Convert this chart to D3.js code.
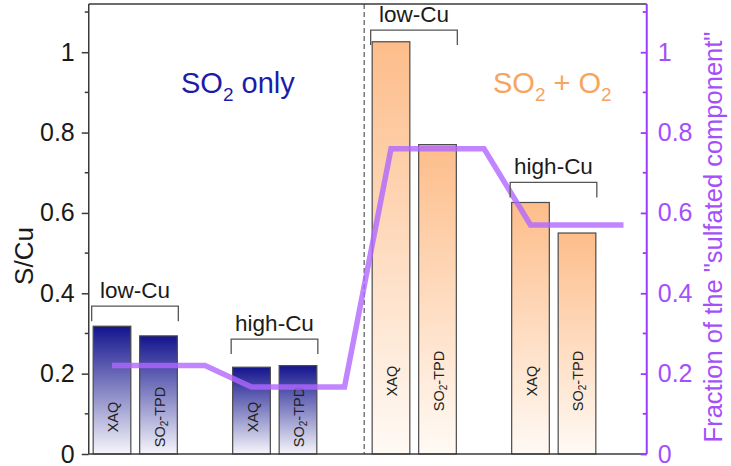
<!DOCTYPE html>
<html><head><meta charset="utf-8">
<script src="https://cdn.jsdelivr.net/npm/d3@7"></script>
<style>
html,body{margin:0;padding:0;background:#fff;}
svg{display:block;font-family:"Liberation Sans",Arial,sans-serif;}
</style></head>
<body>
<svg id="chart" width="731" height="466"></svg>
<script>
// ---- data ----
const barSlots   = [0, 1, 3, 4, 6, 7, 9, 10];
const barMethods = ["XAQ", "SO2-TPD", "XAQ", "SO2-TPD", "XAQ", "SO2-TPD", "XAQ", "SO2-TPD"];
const barAtmos   = ["SO2", "SO2", "SO2", "SO2", "SO2+O2", "SO2+O2", "SO2+O2", "SO2+O2"];
const sCuValues  = [0.318, 0.294, 0.216, 0.220, 1.026, 0.770, 0.626, 0.550];

const fracSlots  = [0, 2, 3, 5, 6, 8, 9, 11];
const fracValues = [0.22, 0.22, 0.167, 0.167, 0.76, 0.76, 0.57, 0.57];

const groupLabels = ["low-Cu", "high-Cu", "low-Cu", "high-Cu"];
const groupBars   = [[0, 1], [2, 3], [4, 5], [6, 7]];
const bracketVals = [0.368, 0.286, 1.055, 0.676];

const yTicks      = [0, 0.2, 0.4, 0.6, 0.8, 1];
const yTickLabels = ["0", "0.2", "0.4", "0.6", "0.8", "1"];
const yMinor      = [0.1, 0.3, 0.5, 0.7, 0.9, 1.1];

// ---- layout ----
const svg = d3.select("#chart");
const L = 88.75, R = 646.75, T = 4, B = 454;
const x = d3.scaleBand().domain(d3.range(12)).range([L, R]).paddingInner(0.19).paddingOuter(0.095);
const bw = x.bandwidth();
const cx = i => x(i) + bw / 2;
const y = d3.scaleLinear().domain([0, 1.12]).range([B, T]);
const yR = d3.scaleLinear().domain([0, 1.12]).range([B, T]);

const axisCol = "#3a3a3a", purple = "#9b3dff", purpleTxt = "#a54ffa";

// gradients
const defs = svg.append("defs");
const gBlue = defs.append("linearGradient").attr("id", "gBlue").attr("x1", 0).attr("y1", 0).attr("x2", 0).attr("y2", 1);
gBlue.append("stop").attr("offset", "0%").attr("stop-color", "#14148e");
gBlue.append("stop").attr("offset", "100%").attr("stop-color", "#f6f6fb");
const gOr = defs.append("linearGradient").attr("id", "gOr").attr("x1", 0).attr("y1", 0).attr("x2", 0).attr("y2", 1);
gOr.append("stop").attr("offset", "0%").attr("stop-color", "#fdbd8a");
gOr.append("stop").attr("offset", "100%").attr("stop-color", "#fffaf5");

// dashed divider
svg.append("line").attr("x1", x(6) - 8).attr("x2", x(6) - 8).attr("y1", T).attr("y2", B)
  .attr("stroke", "#555").attr("stroke-width", 1.2).attr("stroke-dasharray", "5,3");

// bars
const bars = barSlots.map((s, i) => ({slot: s, method: barMethods[i], atmos: barAtmos[i], v: sCuValues[i]}));
svg.append("g").selectAll("rect").data(bars).join("rect")
  .attr("x", d => x(d.slot)).attr("width", bw)
  .attr("y", d => y(d.v)).attr("height", d => y(0) - y(d.v))
  .attr("fill", d => d.atmos === "SO2" ? "url(#gBlue)" : "url(#gOr)")
  .attr("stroke", "#4a4a4a").attr("stroke-width", 1.2);

// bar labels (rotated)
const lab = svg.append("g").selectAll("text").data(bars).join("text")
  .attr("transform", d => `translate(${cx(d.slot) + 1},${d.atmos === "SO2" ? 417 : 381}) rotate(-90)`)
  .attr("text-anchor", "middle").attr("dominant-baseline", "central")
  .attr("font-size", 14.5).attr("fill", "#222");
lab.each(function(d) {
  const t = d3.select(this);
  if (d.method === "XAQ") { t.text("XAQ"); }
  else {
    t.append("tspan").text("SO");
    t.append("tspan").text("2").attr("font-size", 10).attr("dy", 4);
    t.append("tspan").text("-TPD").attr("dy", -4);
  }
});

// fraction line
const fracPts = fracSlots.map((s, i) => [cx(s), yR(fracValues[i])]);
svg.append("path").attr("d", d3.line()(fracPts))
  .attr("fill", "none").attr("stroke", "#b066ff").attr("stroke-opacity", 0.8)
  .attr("stroke-width", 5.5).attr("stroke-linejoin", "miter");

// brackets
groupLabels.forEach((g, i) => {
  const [a, b] = groupBars[i];
  const x0 = x(barSlots[a]) - 1.5, x1 = x(barSlots[b]) + bw + 1;
  const yy = y(bracketVals[i]);
  svg.append("path").attr("d", `M${x0},${yy + 15}V${yy}H${x1}V${yy + 15}`)
    .attr("fill", "none").attr("stroke", "#555").attr("stroke-width", 1.3);
  svg.append("text").attr("x", (x0 + x1) / 2).attr("y", yy - 8)
    .attr("text-anchor", "middle").attr("font-size", 22.5).attr("fill", "#1a1a1a").text(g);
});

// frame top
svg.append("line").attr("x1", L).attr("x2", R).attr("y1", T).attr("y2", T).attr("stroke", axisCol).attr("stroke-width", 1.5);
// bottom axis
svg.append("line").attr("x1", L).attr("x2", R).attr("y1", B).attr("y2", B).attr("stroke", axisCol).attr("stroke-width", 1.5);

// left axis
const gl = svg.append("g").attr("transform", `translate(${L},0)`);
gl.call(d3.axisLeft(y).tickValues(yTicks).tickFormat((d, i) => yTickLabels[i]).tickSize(7).tickPadding(7));
gl.call(g => g.select(".domain").attr("stroke", axisCol).attr("stroke-width", 1.5).attr("d", `M0,${T}V${B}`));
gl.selectAll(".tick line").attr("stroke", axisCol).attr("stroke-width", 1.5);
gl.selectAll(".tick text").attr("font-size", 25).attr("fill", "#1a1a1a").attr("font-family", "Liberation Sans, Arial, sans-serif");
gl.selectAll(".minor").data(yMinor).join("line").attr("class", "minor")
  .attr("x1", -4).attr("x2", 0).attr("y1", d => y(d)).attr("y2", d => y(d)).attr("stroke", axisCol).attr("stroke-width", 1.5);

// right axis
const gr = svg.append("g").attr("transform", `translate(${R},0)`);
gr.call(d3.axisRight(yR).tickValues(yTicks).tickFormat((d, i) => yTickLabels[i]).tickSize(-6).tickPadding(11));
gr.call(g => g.select(".domain").attr("stroke", purple).attr("stroke-width", 2).attr("d", `M0,${T}V${B}`));
gr.selectAll(".tick line").attr("stroke", purple).attr("stroke-width", 1.8);
gr.selectAll(".tick text").attr("font-size", 25).attr("fill", purpleTxt).attr("font-family", "Liberation Sans, Arial, sans-serif");
gr.selectAll(".minor").data(yMinor).join("line").attr("class", "minor")
  .attr("x1", -4).attr("x2", 0).attr("y1", d => yR(d)).attr("y2", d => yR(d)).attr("stroke", purple).attr("stroke-width", 1.8);

// axis titles
svg.append("text").attr("transform", `translate(33,${(T + B) / 2 + 27}) rotate(-90)`)
  .attr("text-anchor", "middle").attr("font-size", 26).attr("fill", "#1a1a1a").text("S/Cu");
svg.append("text").attr("transform", `translate(722,${(T + B) / 2 + 8}) rotate(-90)`)
  .attr("text-anchor", "middle").attr("font-size", 25.5).attr("fill", purpleTxt)
  .text("Fraction of the \"sulfated component\"");

// condition labels
function chem(xp, yp, parts, col) {
  const t = svg.append("text").attr("x", xp).attr("y", yp).attr("font-size", 29).attr("fill", col);
  parts.forEach(p => {
    if (p.sub) t.append("tspan").text(p.t).attr("font-size", 19).attr("dy", 8);
    else t.append("tspan").text(p.t).attr("dy", p.after ? -8 : 0);
  });
}
chem(181, 93, [{t: "SO"}, {t: "2", sub: true}, {t: " only", after: true}], "#1c1ca8");
chem(493, 93, [{t: "SO"}, {t: "2", sub: true}, {t: " + O", after: true}, {t: "2", sub: true}], "#f8a461");
</script>
</body></html>
